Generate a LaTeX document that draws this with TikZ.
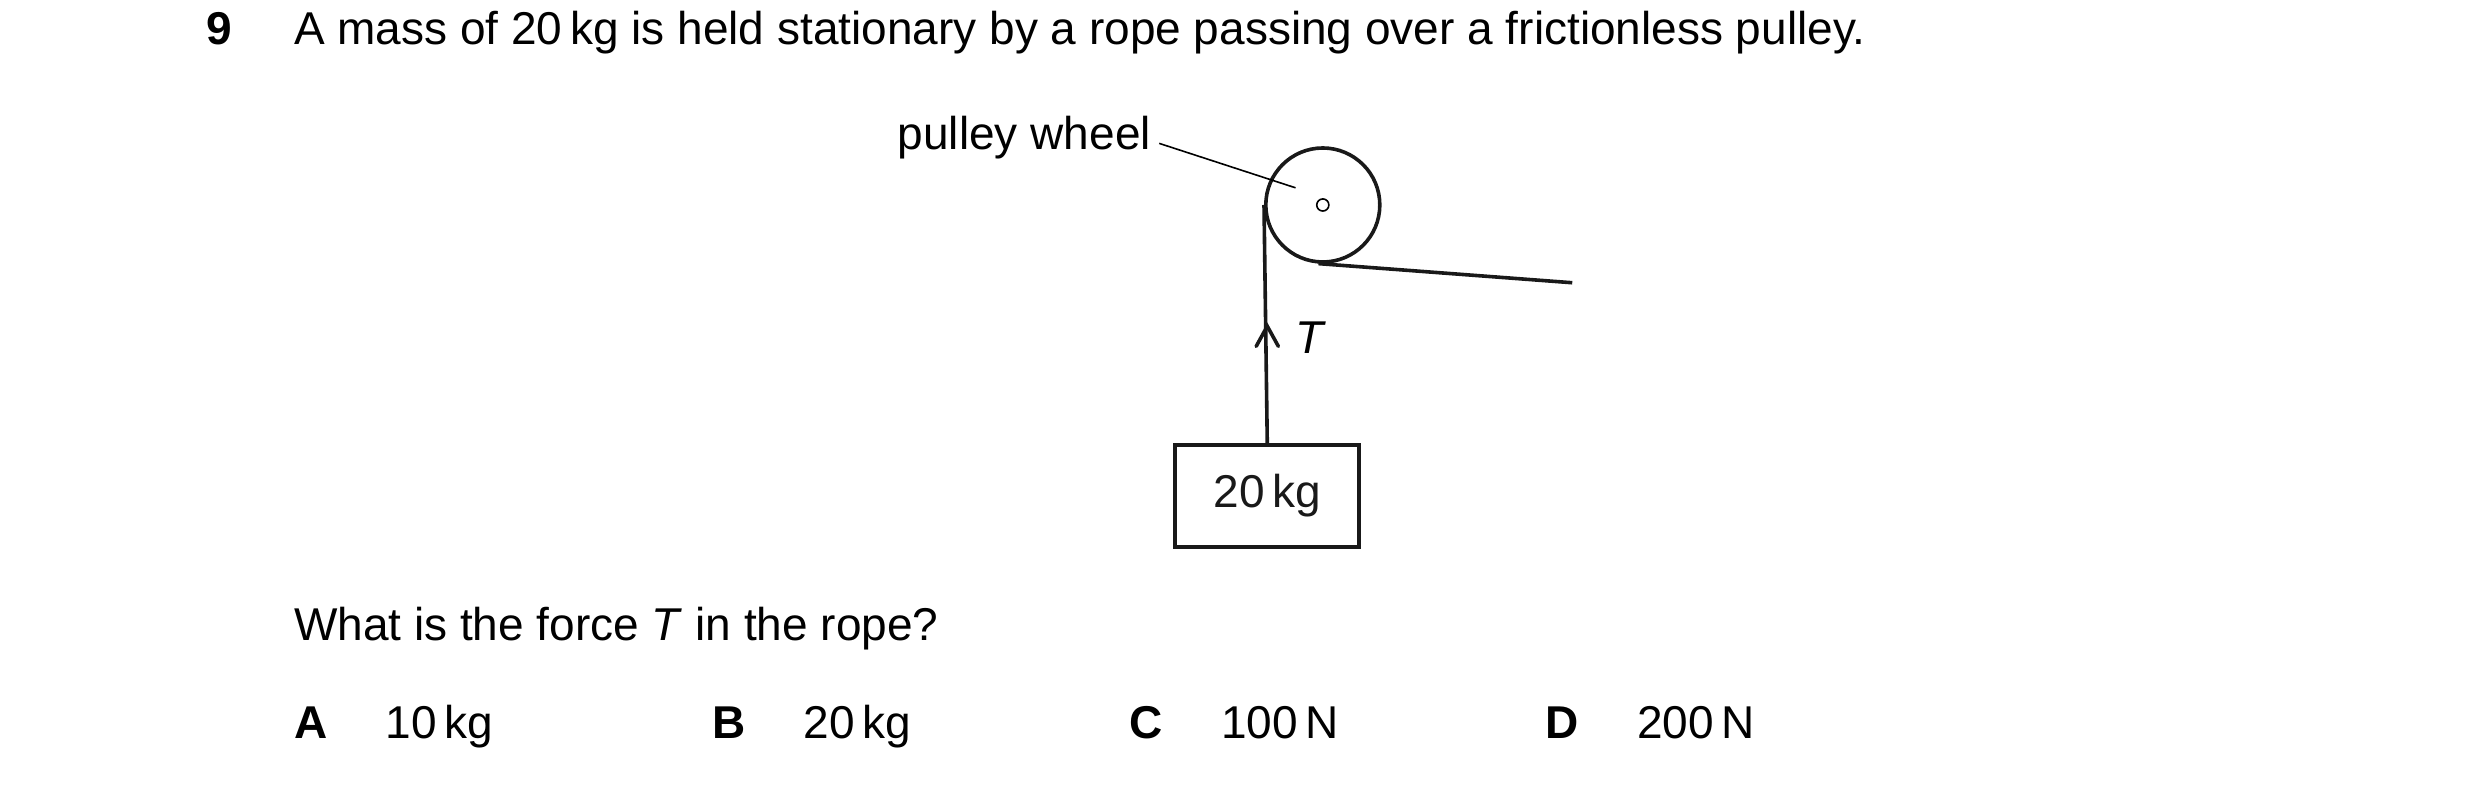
\documentclass[tikz,border=0pt]{standalone}
\usepackage{fontspec}
\setmainfont{Liberation Sans}
\usetikzlibrary{positioning}
\usetikzlibrary{calc}

\begin{document}
\begin{tikzpicture}[x=1.0097pt,y=-1.0097pt,
	txt/.style={inner sep=0pt, font=\fontsize{46}{55}\selectfont},
	rope/.style={line width=3.6pt, black!90}]
	\useasboundingbox (0,0) rectangle (2456,777.5);

	% question text
	\node[txt, anchor=base west, font=\fontsize{46}{55}\selectfont\bfseries] (num) at (204,44) {9};
	\node[txt, anchor=base west] (q) at (291,44) {A mass of 20\,kg is held stationary by a rope passing over a frictionless pulley.};

	% pulley wheel
	\node[circle, draw, rope, minimum size=114, inner sep=0pt] (wheel) at (1310,203) {};
	\draw[line width=1.6pt] (wheel.center) circle [radius=6];
	\node[txt, anchor=base east] (lbl) at (1140,148) {pulley wheel};
	\draw[line width=1.6pt] (1148,142) -- (1283,186);

	% mass and rope
	\node[draw, rope, minimum width=184, minimum height=102, inner sep=0pt, txt] (m) at (1255,491) {20\,kg};
	\draw[rope] (m.north) -- (wheel.west);
	\coordinate (free) at (1557,280);
	\draw[rope] (free) -- (tangent cs:node=wheel,point={(free)},solution=2);
	\draw[rope, line cap=round] (1244,343) -- (1255,323) -- (1266,343);
	\node[txt, anchor=base west, font=\fontsize{46}{55}\selectfont\itshape] (t) at (1283,350) {T};

	% question and answers
	\node[txt, anchor=base west] (ask) at (291,634) {What is the force \textit{T} in the rope?};
	\foreach \lt/\ans/\x in {A/10\,kg/291, B/20\,kg/705, C/100\,N/1118, D/200\,N/1530} {
		\node[txt, anchor=base west, font=\fontsize{46}{55}\selectfont\bfseries] (opt\lt) at (\x,731) {\lt};
		\node[txt, anchor=base west] (val\lt) at (\x+91,731) {\ans};
	}
\end{tikzpicture}
\end{document}
